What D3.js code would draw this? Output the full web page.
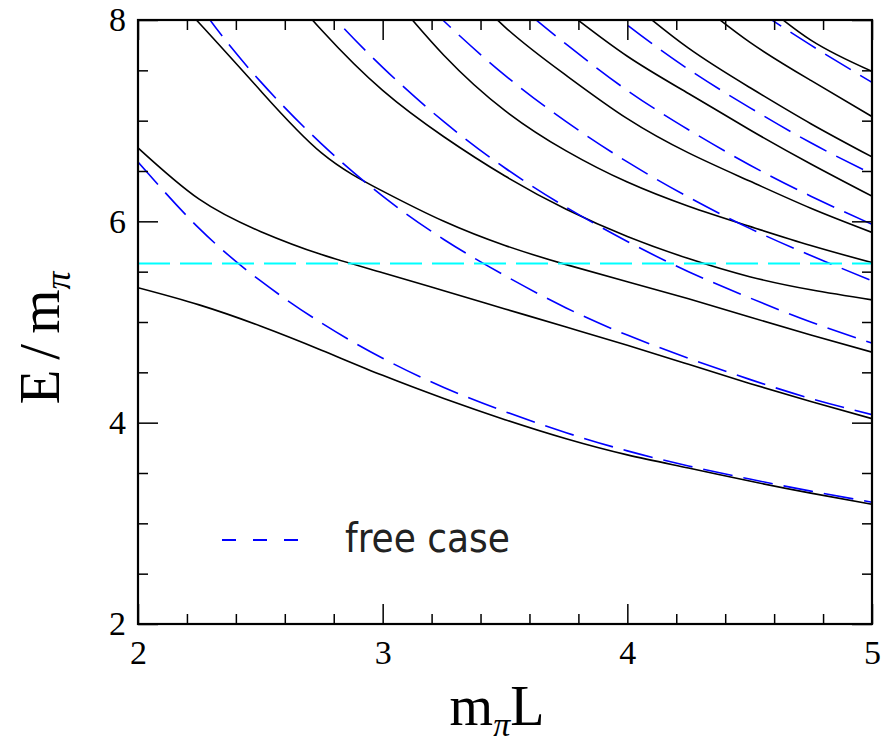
<!DOCTYPE html>
<html>
<head>
<meta charset="utf-8">
<script src="https://cdn.jsdelivr.net/npm/d3@7"></script>
<style>
body { margin: 0; background: #fff; }
</style>
</head>
<body>
<div id="canvas"></div>
<script>
const width = 887;
const height = 742;
const margin = { left: 138, right: 15, top: 20, bottom: 118 };

// m_pi L grid where every curve was read
const mL = [2, 2.25, 2.5, 2.75, 3, 3.25, 3.5, 3.75, 4, 4.25, 4.5, 4.75, 5];

// interacting levels E/m_pi (solid black); null = off the chart
const level1 = [5.34, 5.17, 4.96, 4.72, 4.47, 4.24, 4.03, 3.84, 3.68, 3.55, 3.42, 3.30, 3.19];
const level2 = [6.73, 6.22, 5.90, 5.67, 5.49, 5.31, 5.13, 4.95, 4.77, 4.58, 4.39, 4.21, 4.04];
const level3 = [8.62, 7.97, 7.30, 6.68, 6.30, 6.00, 5.76, 5.57, 5.40, 5.23, 5.05, 4.87, 4.70];
const level4 = [null, null, 8.60, 7.90, 7.30, 6.84, 6.45, 6.12, 5.85, 5.63, 5.45, 5.32, 5.22];
const level5 = [null, null, null, null, 8.35, 7.65, 7.10, 6.70, 6.39, 6.15, 5.95, 5.76, 5.59];
const level6 = [null, null, null, null, null, 8.55, 7.93, 7.45, 7.02, 6.68, 6.40, 6.13, 5.89];
const level7 = [null, null, null, null, null, null, null, 8.09, 7.64, 7.27, 6.91, 6.57, 6.25];
const level8 = [null, null, null, null, null, null, null, null, 8.20, 7.72, 7.33, 6.97, 6.64];
const level9 = [null, null, null, null, null, null, null, null, null, 8.25, 7.78, 7.40, 7.04];
const level10 = [null, null, null, null, null, null, null, null, null, null, 8.27, 7.80, 7.49];

// free case levels (dashed blue)
const free1 = [6.59, 5.93, 5.41, 4.99, 4.64, 4.35, 4.11, 3.90, 3.72, 3.57, 3.44, 3.32, 3.21];
const free2 = [9.11, 8.15, 7.39, 6.77, 6.25, 5.82, 5.46, 5.14, 4.87, 4.64, 4.43, 4.24, 4.08];
const free3 = [null, 9.88, 8.93, 8.16, 7.53, 6.99, 6.53, 6.14, 5.80, 5.50, 5.24, 5.00, 4.79];
const free4 = [null, null, null, 9.36, 8.61, 7.99, 7.45, 6.99, 6.59, 6.24, 5.93, 5.66, 5.41];
const free5 = [null, null, null, null, null, 8.88, 8.27, 7.76, 7.30, 6.91, 6.56, 6.25, 5.97];
const free6 = [null, null, null, null, null, null, 9.02, 8.45, 7.95, 7.51, 7.13, 6.78, 6.47];
const free8 = [null, null, null, null, null, null, null, null, 9.11, 8.60, 8.15, 7.75, 7.38];

// horizontal reference (cyan)
const rhoLevel = 5.58;

const xTicks = [2, 3, 4, 5];
const yTicks = [2, 4, 6, 8];

const levels = [level1, level2, level3, level4, level5, level6, level7, level8, level9, level10];
const freeLevels = [free1, free2, free3, free4, free5, free6, free8];

const svg = d3.select("#canvas")
    .append("svg")
    .attr("width", width)
    .attr("height", height)
    .style("background-color", "white");

const x = d3.scaleLinear()
    .domain([2, 5])
    .range([margin.left, width - margin.right]);

const y = d3.scaleLinear()
    .domain([2, 8])
    .range([height - margin.bottom, margin.top]);

svg.append("clipPath")
    .attr("id", "plot-clip")
    .append("rect")
    .attr("x", x(2))
    .attr("y", y(8))
    .attr("width", x(5) - x(2))
    .attr("height", y(2) - y(8));

const line = d3.line()
    .defined(d => d[1] !== null)
    .x(d => x(d[0]))
    .y(d => y(d[1]))
    .curve(d3.curveNatural);

const plot = svg.append("g").attr("clip-path", "url(#plot-clip)");

plot.selectAll(".level")
    .data(levels)
    .join("path")
    .attr("class", "level")
    .attr("d", vals => line(vals.map((v, i) => [mL[i], v])))
    .attr("fill", "none")
    .attr("stroke", "black")
    .attr("stroke-width", 1.6);

plot.selectAll(".free")
    .data(freeLevels)
    .join("path")
    .attr("class", "free")
    .attr("d", vals => line(vals.map((v, i) => [mL[i], v])))
    .attr("fill", "none")
    .attr("stroke", "#0000ff")
    .attr("stroke-width", 1.6)
    .attr("stroke-dasharray", "30,11");

plot.append("line")
    .attr("x1", x(2))
    .attr("x2", x(5))
    .attr("y1", y(rhoLevel))
    .attr("y2", y(rhoLevel))
    .attr("stroke", "#00ffff")
    .attr("stroke-width", 2)
    .attr("stroke-dasharray", "32,10");

// ticks on all four sides, pointing inward
const xMinor = d3.range(2, 5.001, 0.2).filter(v => Math.abs(v - Math.round(v)) > 1e-6);
const yMinor = d3.range(2, 8.001, 0.5).filter(v => !yTicks.some(t => Math.abs(t - v) < 1e-6));

function tickAxis(axisFn, scale, values, size, fmt) {
    return axisFn(scale).tickValues(values).tickSize(size).tickSizeOuter(0).tickFormat(fmt);
}

const serif = "'Liberation Serif', 'DejaVu Serif', serif";

svg.append("g")
    .attr("transform", `translate(0,${y(2)})`)
    .call(tickAxis(d3.axisBottom, x, xTicks, -20, d3.format("d")).tickPadding(16));
svg.append("g")
    .attr("transform", `translate(0,${y(2)})`)
    .call(tickAxis(d3.axisBottom, x, xMinor, -10, ""));
svg.append("g")
    .attr("transform", `translate(0,${y(8)})`)
    .call(tickAxis(d3.axisTop, x, xTicks, -20, ""));
svg.append("g")
    .attr("transform", `translate(0,${y(8)})`)
    .call(tickAxis(d3.axisTop, x, xMinor, -10, ""));

svg.append("g")
    .attr("transform", `translate(${x(2)},0)`)
    .call(tickAxis(d3.axisLeft, y, yTicks, -20, d3.format("d")).tickPadding(12));
svg.append("g")
    .attr("transform", `translate(${x(2)},0)`)
    .call(tickAxis(d3.axisLeft, y, yMinor, -10, ""));
svg.append("g")
    .attr("transform", `translate(${x(5)},0)`)
    .call(tickAxis(d3.axisRight, y, yTicks, -20, ""));
svg.append("g")
    .attr("transform", `translate(${x(5)},0)`)
    .call(tickAxis(d3.axisRight, y, yMinor, -10, ""));

svg.selectAll(".domain").remove();
svg.selectAll(".tick line").attr("stroke", "black").attr("stroke-width", 1.5);
svg.selectAll(".tick text")
    .attr("font-family", serif)
    .attr("font-size", "34px")
    .attr("fill", "black");

// frame
svg.append("rect")
    .attr("x", x(2))
    .attr("y", y(8))
    .attr("width", x(5) - x(2))
    .attr("height", y(2) - y(8))
    .attr("fill", "none")
    .attr("stroke", "black")
    .attr("stroke-width", 2.2);

// axis titles
const xTitle = svg.append("text")
    .attr("x", 497)
    .attr("y", 725)
    .attr("text-anchor", "middle")
    .attr("font-family", serif)
    .attr("font-size", "56px")
    .attr("fill", "black");
xTitle.append("tspan").text("m");
xTitle.append("tspan").attr("dy", 11).attr("font-size", "34px").attr("font-style", "italic").text("π");
xTitle.append("tspan").attr("dy", -11).text("L");

const yTitle = svg.append("text")
    .attr("transform", `translate(59,338) rotate(-90)`)
    .attr("text-anchor", "middle")
    .attr("font-family", serif)
    .attr("font-size", "57px")
    .attr("fill", "black");
yTitle.append("tspan").text("E");
yTitle.append("tspan").attr("dx", 10).text("/");
yTitle.append("tspan").attr("dx", 10).text("m");
yTitle.append("tspan").attr("dy", 11).attr("font-size", "36px").attr("font-style", "italic").text("π");

// legend
svg.append("line")
    .attr("x1", 222)
    .attr("x2", 298)
    .attr("y1", 540)
    .attr("y2", 540)
    .attr("stroke", "#0000ff")
    .attr("stroke-width", 1.8)
    .attr("stroke-dasharray", "14,17");

svg.append("text")
    .attr("x", 345)
    .attr("y", 552)
    .attr("font-family", "'DejaVu Sans Condensed', 'DejaVu Sans', sans-serif")
    .attr("font-stretch", "condensed")
    .attr("font-size", "40px")
    .attr("fill", "#222")
    .text("free case");
</script>
</body>
</html>
